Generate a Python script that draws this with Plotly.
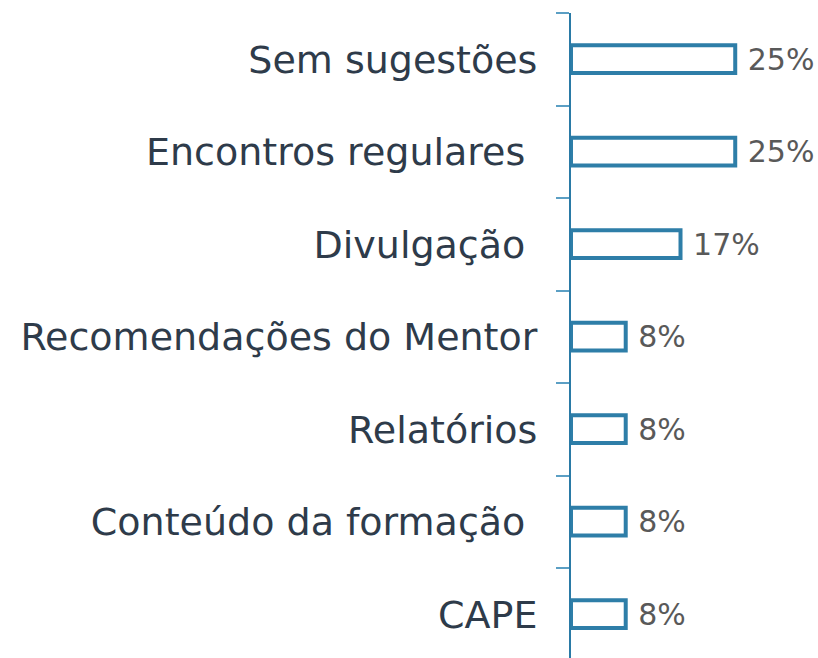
import plotly.graph_objects as go

# bottom -> top
categories = [
    "CAPE",
    "Conteúdo da formação\u00a0",
    "Relatórios",
    "Recomendações do Mentor",
    "Divulgação\u00a0",
    "Encontros regulares\u00a0",
    "Sem sugestões",
]
shares = [8.33, 8.33, 8.33, 8.33, 16.67, 25.0, 25.0]

BAR_BLUE = "#2e7ea8"
LABEL_DARK = "#2e3b4a"
VALUE_GRAY = "#595959"

fig = go.Figure()
fig.add_bar(
    x=shares,
    y=categories,
    orientation="h",
    width=0.3,
    marker=dict(color="white", line=dict(color=BAR_BLUE, width=4)),
    texttemplate="\u00a0%{x:.0f}%",
    textposition="outside",
    constraintext="none",
    textfont=dict(family="DejaVu Sans", size=30, color=VALUE_GRAY),
    cliponaxis=False,
    hoverinfo="skip",
)
fig.update_layout(
    width=818,
    height=658,
    margin=dict(l=571, r=0, t=13, b=0),
    plot_bgcolor="white",
    paper_bgcolor="white",
    showlegend=False,
    xaxis=dict(range=[0, 37.6], visible=False, fixedrange=True),
    yaxis=dict(
        type="category",
        categoryorder="array",
        categoryarray=categories,
        range=[-0.473, 6.5],
        autorange=False,
        fixedrange=True,
        showline=True,
        linecolor="#2a7aa6",
        linewidth=2,
        ticks="outside",
        ticklen=13,
        tickwidth=2,
        tickcolor="#5b9fc4",
        tickson="boundaries",
        showgrid=False,
        ticklabelstandoff=24,
        tickfont=dict(family="DejaVu Sans", size=38, color=LABEL_DARK),
    ),
)
fig.write_html(
    "out.html",
    config={"displayModeBar": False},
    post_script="document.body.style.margin='0';",
)
